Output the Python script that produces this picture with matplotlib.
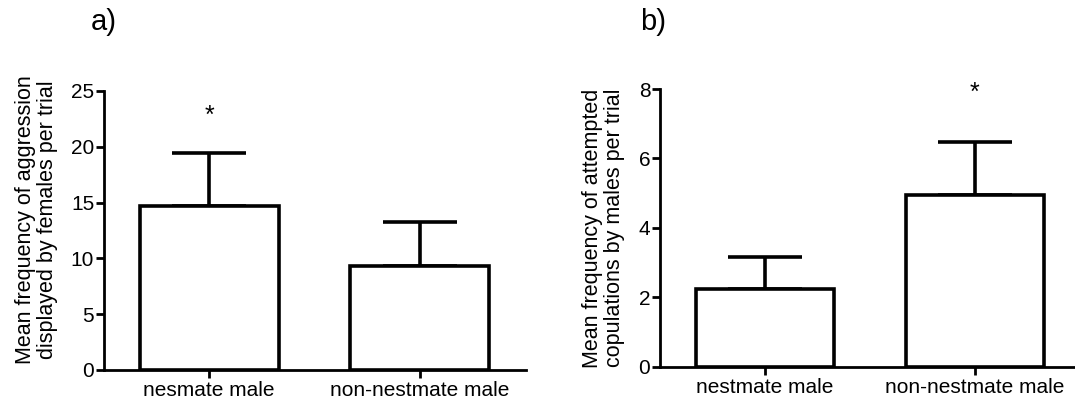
import matplotlib
matplotlib.use("Agg")
import matplotlib.pyplot as plt

plt.rcParams['font.family'] = ['Liberation Sans', 'DejaVu Sans']

# panel a: aggression by females
a_labels = ["nesmate male", "non-nestmate male"]
a_means = [14.7, 9.3]
a_sem = [4.7, 4.0]
a_star_x = [0]
a_star_y = [22.8]
a_yticks = [0, 5, 10, 15, 20, 25]
a_ylabel = "Mean frequency of aggression\ndisplayed by females per trial"

# panel b: attempted copulations by males
b_labels = ["nestmate male", "non-nestmate male"]
b_means = [2.25, 4.95]
b_sem = [0.9, 1.53]
b_star_x = [1]
b_star_y = [7.9]
b_yticks = [0, 2, 4, 6, 8]
b_ylabel = "Mean frequency of attempted\ncopulations by males per trial"

fig = plt.figure(figsize=(10.75, 4.03), dpi=100)
ax_a = fig.add_axes([0.0967, 0.0819, 0.3926, 0.6923])
ax_b = fig.add_axes([0.614, 0.0900, 0.3865, 0.6890])


def draw_panel(ax, labels, means, sem, star_x, star_y, yticks, ylabel, xmax, lab_xy):
    x = list(range(len(means)))
    ax.bar(x, means, width=0.66, color='white', edgecolor='black', linewidth=2.6, zorder=3)
    ax.errorbar(x, means, yerr=[[0] * len(sem), sem], fmt='none', ecolor='black',
                elinewidth=2.6, capsize=26.5, capthick=2.6, zorder=2)
    for sx, sy in zip(star_x, star_y):
        ax.text(sx, sy, '*', ha='center', va='center', fontsize=18)
    ax.set_xlim(-0.5, xmax)
    ax.set_ylim(yticks[0], yticks[-1])
    ax.set_xticks(x)
    ax.set_xticklabels(labels, fontsize=15)
    ax.set_yticks(yticks)
    ax.tick_params(axis='y', labelsize=15, width=2, length=6, direction='out', pad=1)
    ax.tick_params(axis='x', width=2, length=6, direction='out', pad=2)
    for s in ['top', 'right']:
        ax.spines[s].set_visible(False)
    for s in ['left', 'bottom']:
        ax.spines[s].set_linewidth(2)
    ax.set_ylabel(ylabel, fontsize=15.5, linespacing=1.05)
    ax.yaxis.set_label_coords(*lab_xy)


draw_panel(ax_a, a_labels, a_means, a_sem, a_star_x, a_star_y, a_yticks, a_ylabel, 1.505, (-0.109, 0.54))
draw_panel(ax_b, b_labels, b_means, b_sem, b_star_x, b_star_y, b_yticks, b_ylabel, 1.48, (-0.085, 0.50))

fig.text(104 / 1075, 1 - 22 / 403, "a)", ha='center', va='center', fontsize=21)
fig.text(653 / 1075, 1 - 22 / 403, "b)", ha='center', va='center', fontsize=21)

fig.savefig("out.png", dpi=100)
